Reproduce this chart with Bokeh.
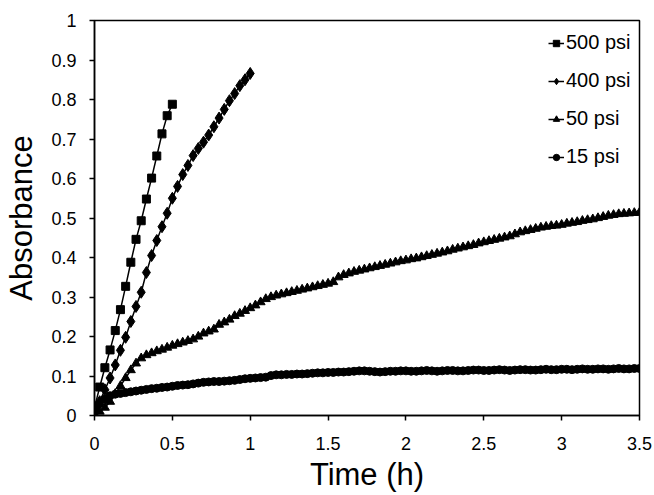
import numpy as np
from bokeh.plotting import figure
from bokeh.models import FixedTicker, CustomJSTickFormatter, Range1d
from bokeh.embed import file_html
from bokeh.resources import INLINE

# sampling times in minutes (one point every 2 min)
t500_min = [0, 2, 4, 6, 8, 10, 12, 14, 16, 18, 20, 22, 24, 26, 28, 30]
t400_min = [0, 2, 4, 6, 8, 10, 12, 14, 16, 18, 20, 22, 24, 26, 28, 30,
            32, 34, 36, 38, 40, 42, 44, 46, 48, 50, 52, 54, 56, 58, 60]
tlong_min = [0, 2, 4, 6, 8, 10, 12, 14, 16, 18, 20, 22, 24, 26, 28, 30,
             32, 34, 36, 38, 40, 42, 44, 46, 48, 50, 52, 54, 56, 58, 60,
             62, 64, 66, 68, 70, 72, 74, 76, 78, 80, 82, 84, 86, 88, 90,
             92, 94, 96, 98, 100, 102, 104, 106, 108, 110, 112, 114, 116, 118, 120,
             122, 124, 126, 128, 130, 132, 134, 136, 138, 140, 142, 144, 146, 148, 150,
             152, 154, 156, 158, 160, 162, 164, 166, 168, 170, 172, 174, 176, 178, 180,
             182, 184, 186, 188, 190, 192, 194, 196, 198, 200, 202, 204, 206, 208, 210]

# absorbance values
abs_500 = [0.020, 0.072, 0.121, 0.166, 0.215, 0.268, 0.327, 0.388, 0.446, 0.493,
           0.548, 0.601, 0.657, 0.713, 0.759, 0.788]
abs_400 = [0.005, 0.035, 0.065, 0.095, 0.128, 0.165, 0.198, 0.238, 0.276, 0.312,
           0.362, 0.405, 0.443, 0.478, 0.512, 0.550, 0.580, 0.610, 0.633, 0.658,
           0.676, 0.692, 0.710, 0.731, 0.753, 0.775, 0.797, 0.815, 0.835, 0.850, 0.866]
abs_50 = [0.002, 0.010, 0.020, 0.035, 0.055, 0.075, 0.095, 0.115, 0.132, 0.145, 0.153, 0.158, 0.163, 0.167, 0.172, 0.177,
          0.181, 0.185, 0.189, 0.193, 0.200, 0.208, 0.213, 0.218, 0.230, 0.236, 0.243, 0.252, 0.258, 0.265, 0.272,
          0.279, 0.287, 0.295, 0.300, 0.304, 0.307, 0.310, 0.313, 0.316, 0.319, 0.322, 0.325, 0.328, 0.331, 0.334,
          0.338, 0.350, 0.356, 0.360, 0.364, 0.367, 0.370, 0.373, 0.376, 0.379, 0.382, 0.385, 0.388, 0.391, 0.393,
          0.396, 0.398, 0.401, 0.404, 0.407, 0.410, 0.413, 0.416, 0.420, 0.423, 0.426, 0.429, 0.432, 0.436, 0.439,
          0.442, 0.445, 0.448, 0.451, 0.454, 0.459, 0.464, 0.467, 0.470, 0.473, 0.476, 0.478, 0.480, 0.481, 0.483,
          0.486, 0.488, 0.490, 0.493, 0.495, 0.497, 0.500, 0.503, 0.506, 0.508, 0.510, 0.511, 0.512, 0.513, 0.514]
abs_15 = [0.010, 0.030, 0.042, 0.050, 0.054, 0.056, 0.058, 0.060, 0.062, 0.064, 0.066, 0.068, 0.069, 0.071, 0.072, 0.074,
          0.076, 0.077, 0.078, 0.080, 0.082, 0.084, 0.085, 0.086, 0.086, 0.087, 0.088, 0.089, 0.091, 0.093, 0.094,
          0.095, 0.096, 0.097, 0.101, 0.103, 0.103, 0.104, 0.104, 0.105, 0.105, 0.106, 0.107, 0.108, 0.108, 0.109,
          0.109, 0.110, 0.110, 0.111, 0.112, 0.113, 0.113, 0.112, 0.111, 0.110, 0.111, 0.112, 0.112, 0.113, 0.113,
          0.112, 0.112, 0.113, 0.114, 0.113, 0.112, 0.113, 0.114, 0.114, 0.113, 0.113, 0.114, 0.115, 0.115, 0.114,
          0.114, 0.115, 0.116, 0.115, 0.114, 0.115, 0.116, 0.116, 0.115, 0.115, 0.116, 0.117, 0.116, 0.116, 0.117,
          0.117, 0.116, 0.117, 0.118, 0.117, 0.117, 0.118, 0.118, 0.117, 0.118, 0.119, 0.118, 0.118, 0.119, 0.119]

x_ticks = [0, 0.5, 1, 1.5, 2, 2.5, 3, 3.5]
y_ticks = [0, 0.1, 0.2, 0.3, 0.4, 0.5, 0.6, 0.7, 0.8, 0.9, 1]

FONT = "Liberation Sans"

p = figure(width=654, height=495, output_backend="svg", toolbar_location=None,
           x_range=Range1d(0, 3.5), y_range=Range1d(0, 1),
           min_border_left=94, min_border_right=15, min_border_top=20, min_border_bottom=80)
p.background_fill_color = "white"
p.border_fill_color = "white"
p.grid.grid_line_color = None
p.outline_line_color = "black"
p.outline_line_width = 1.5

series = [
    ("500 psi", t500_min, abs_500, "square", 8),
    ("400 psi", t400_min, abs_400, "diamond", 12),
    ("50 psi", tlong_min, abs_50, "triangle", 9),
    ("15 psi", tlong_min, abs_15, "circle", 8),
]
for name, tm, ab, marker, size in series:
    th = np.array(tm) / 60.0
    p.line(th, ab, line_color="black", line_width=1.5, legend_label=name)
    p.scatter(th, ab, marker=marker, size=size, fill_color="black",
              line_color="black", legend_label=name)

p.xaxis.ticker = FixedTicker(ticks=x_ticks)
p.yaxis.ticker = FixedTicker(ticks=y_ticks)
fmt = CustomJSTickFormatter(code="return String(Math.round(tick * 10) / 10);")
p.xaxis.formatter = fmt
p.yaxis.formatter = fmt

for ax in (p.xaxis, p.yaxis):
    ax.axis_line_color = "black"
    ax.axis_line_width = 1.5
    ax.major_tick_line_color = "black"
    ax.major_tick_line_width = 1.5
    ax.major_tick_out = 5
    ax.major_tick_in = 0
    ax.minor_tick_line_color = None
    ax.major_label_text_font = FONT
    ax.major_label_text_font_size = "18px"
    ax.major_label_text_color = "black"
    ax.axis_label_text_font = FONT
    ax.axis_label_text_font_size = "31px"
    ax.axis_label_text_font_style = "normal"
    ax.axis_label_text_color = "black"

p.xaxis.axis_label = "Time (h)"
p.yaxis.axis_label = "Absorbance"
p.xaxis.major_label_standoff = 16
p.xaxis.axis_label_standoff = 4
p.yaxis.major_label_standoff = 13
p.yaxis.axis_label_standoff = 9

lg = p.legend[0]
lg.location = (454, 247)
lg.border_line_color = None
lg.background_fill_alpha = 0
lg.label_text_font = FONT
lg.label_text_font_size = "20px"
lg.label_text_color = "black"
lg.glyph_width = 16
lg.glyph_height = 20
lg.label_height = 20
lg.label_standoff = 2
lg.spacing = 15
lg.padding = 5
lg.margin = 0

open("out.html", "w").write(file_html(p, INLINE))
